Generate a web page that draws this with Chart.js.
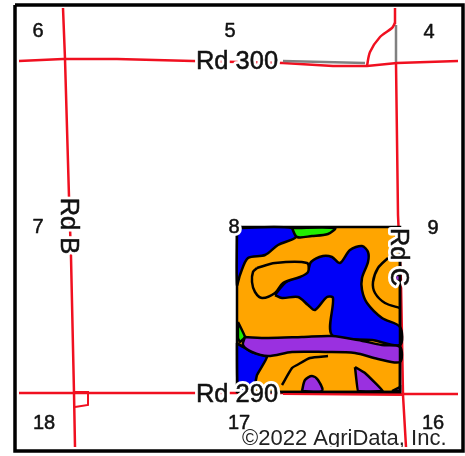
<!DOCTYPE html>
<html>
<head>
<meta charset="utf-8">
<style>
  body { margin: 0; background: #fff; }
  canvas { display: block; filter: blur(0.45px); }
</style>
<script src="https://cdn.jsdelivr.net/npm/chart.js@4"></script>
</head>
<body>
<canvas id="mapa" width="465" height="456"></canvas>
<script>
// map data ([easting, southing] on the map grid)
const frame = [[15, 5], [463, 5], [463, 451], [15, 451], [15, 5]];

const rd300 = [[19, 61], [63, 59], [117, 59], [193, 61], [283, 63], [333, 66], [367, 66], [397, 63], [458, 61]];
const rd300Old = [[283, 61], [365, 63]];
const rd290 = [[19, 393], [193, 393], [283, 393], [403, 394], [458, 394]];
const rdB = [[63, 8], [65, 59], [69, 197], [71, 257], [74, 393], [75, 447]];
const rdCNorth = [[395, 8], [395, 24]];
const rdC = [[396, 63], [398, 215], [401, 282], [403, 395], [406, 447]];
const rdCOld = [[396, 25], [396, 63]];
const curve = [[367, 66], [370, 52], [380, 37], [392, 28], [395, 23]];
const yard = [[75, 392], [88, 392], [88, 405], [75, 407]];

const field = [[237, 227], [400, 227], [400, 392], [237, 392], [237, 227]];
const blueNW = [[237, 228], [292, 228], [296, 237], [278, 245], [265, 255], [248, 258], [240, 275], [237, 285], [237, 228]];
const greenN = [[292, 228], [335, 228], [328, 234], [312, 236], [297, 237], [292, 228]];
const blueMid = [[275, 295], [285, 283], [300, 275], [308, 270], [311, 262], [323, 256], [332, 257], [340, 263], [350, 250], [362, 246], [368, 252], [368, 262], [362, 278], [362, 290], [367, 303], [382, 318], [400, 327], [400, 345], [372, 340], [332, 335], [333, 298], [327, 297], [315, 310], [308, 305], [298, 297], [282, 298], [275, 295]];
const island = [[257, 268], [275, 263], [307, 263], [308, 272], [300, 277], [283, 283], [275, 293], [262, 298], [255, 292], [252, 282], [253, 272], [257, 268]];
const contourE = [[388, 258], [378, 268], [373, 282], [375, 293], [385, 303], [400, 308]];
const greenW = [[238, 322], [245, 337], [240, 342], [238, 338], [238, 322]];
const purpleBand = [[245, 337], [268, 338], [302, 337], [332, 336], [358, 340], [382, 345], [400, 347], [400, 362], [378, 359], [355, 353], [325, 352], [292, 352], [268, 356], [252, 352], [243, 345], [245, 337]];
const blueSW = [[237, 343], [243, 347], [252, 352], [267, 357], [257, 375], [253, 392], [238, 392], [237, 343]];
const contourS = [[282, 385], [292, 368], [297, 365], [310, 358], [328, 356]];
const purpleSpot = [[302, 391], [305, 380], [312, 376], [318, 380], [322, 391], [302, 391]];
const purpleWedge = [[355, 367], [365, 373], [383, 391], [358, 391], [355, 367]];
const purpleCorner = [[392, 391], [400, 387], [400, 391], [392, 391]];
const purpleDot = [[395, 275], [400, 275], [400, 281], [395, 281], [395, 275]];
const fieldEdge = [[400, 227], [400, 392], [237, 392]];
const rd290Edge = [[283, 394], [403, 395]];

const labelTexts = ["6", "5", "4", "7", "8", "9", "18", "17", "16"];
const labelX = [38, 230, 429, 38, 234, 433, 44, 239, 433];
const labelY = [31, 31, 32, 227, 227, 228, 423, 423, 423];

const roadNames = ["Rd 300", "Rd 290", "Rd B", "Rd C"];
const roadNameX = [237, 237, 68, 398];
const roadNameY = [62, 395, 226, 257];
const roadNameAngle = [0, 0, 90, 90];

const RED = "#f01020", BLACK = "#000", BLUE = "#0000f8", ORANGE = "#ffa500", PURPLE = "#9a30e0", GREEN = "#20ee00";

function linha(data, color, width, tension) {
  return { data: data, showLine: true, fill: false, borderColor: color, borderWidth: width, tension: tension || 0, pointRadius: 0 };
}
function area(data, color, tension) {
  return { data: data, showLine: true, fill: "shape", backgroundColor: color, borderColor: BLACK, borderWidth: 2.5, tension: tension === undefined ? 0.3 : tension, pointRadius: 0 };
}

// paint order: first one goes underneath
const camadas = [
  linha(frame, BLACK, 3.5),
  linha(rdCOld, "#808080", 2.5),
  linha(rd300, RED, 2.5),
  linha(rd300Old, "#808080", 2.5),
  linha(rd290, RED, 2.5),
  linha(rdB, RED, 2.5),
  linha(rdCNorth, RED, 2.5),
  linha(rdC, RED, 2.5),
  linha(curve, RED, 2.5, 0.3),
  linha(yard, RED, 2),
  area(field, ORANGE, 0),
  area(blueNW, BLUE),
  area(greenN, GREEN),
  area(blueMid, BLUE),
  area(island, ORANGE),
  linha(contourE, BLACK, 2.5, 0.3),
  area(greenW, GREEN, 0.1),
  area(blueSW, BLUE, 0.1),
  area(purpleBand, PURPLE),
  linha(contourS, BLACK, 2.5, 0.2),
  area(purpleSpot, PURPLE),
  area(purpleWedge, PURPLE, 0.05),
  area(purpleCorner, PURPLE, 0),
  area(purpleDot, PURPLE, 0),
  linha(fieldEdge, BLACK, 2.5),
  linha(rd290Edge, RED, 2)
];

const rotulos = {
  id: "rotulos",
  afterDatasetsDraw(chart) {
    const ctx = chart.ctx;
    const sx = chart.scales.x, sy = chart.scales.y;

    function texto(str, x, y, font, angle) {
      ctx.save();
      ctx.translate(sx.getPixelForValue(x), sy.getPixelForValue(y));
      ctx.rotate((angle || 0) * Math.PI / 180);
      ctx.font = font;
      ctx.textAlign = "center";
      ctx.textBaseline = "middle";
      ctx.lineJoin = "round";
      ctx.lineWidth = 6;
      ctx.strokeStyle = "#fff";
      ctx.strokeText(str, 0, 0);
      ctx.lineWidth = 0.5;
      ctx.strokeStyle = "#111";
      ctx.strokeText(str, 0, 0);
      ctx.fillStyle = "#111";
      ctx.fillText(str, 0, 0);
      ctx.restore();
    }

    labelTexts.forEach((t, i) => texto(t, labelX[i], labelY[i], "20px 'Liberation Sans'"));
    roadNames.forEach((t, i) => texto(t, roadNameX[i], roadNameY[i], "25.5px 'Liberation Sans'", roadNameAngle[i]));

    // copyright is cut off by the map edge
    ctx.save();
    ctx.beginPath();
    ctx.rect(sx.getPixelForValue(16), sy.getPixelForValue(8), sx.getPixelForValue(462) - sx.getPixelForValue(16), sy.getPixelForValue(447) - sy.getPixelForValue(8));
    ctx.clip();
    ctx.font = "22px 'Liberation Sans'";
    ctx.fillStyle = "#222";
    ctx.fillText("©2022 AgriData, Inc.", sx.getPixelForValue(242), sy.getPixelForValue(445));
    ctx.restore();
  }
};

new Chart(document.getElementById("mapa"), {
  type: "scatter",
  data: { datasets: camadas.slice().reverse() },
  options: {
    responsive: false,
    animation: false,
    layout: { padding: 0 },
    scales: {
      x: { type: "linear", min: 0, max: 465, display: false },
      y: { type: "linear", min: 0, max: 456, reverse: true, display: false }
    },
    plugins: {
      legend: { display: false },
      tooltip: { enabled: false },
      filler: { drawTime: "beforeDatasetDraw" }
    }
  },
  plugins: [rotulos]
});
</script>
</body>
</html>
